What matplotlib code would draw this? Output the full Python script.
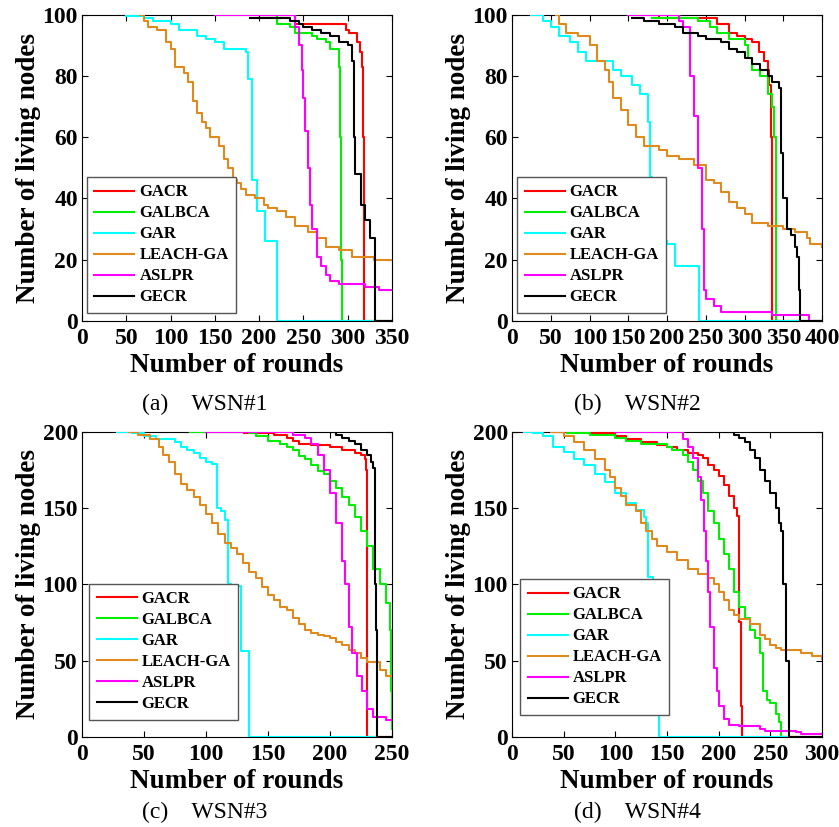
import matplotlib
matplotlib.use("Agg")
import matplotlib.pyplot as plt

plt.rcParams['font.family'] = ['Liberation Serif', 'DejaVu Serif']

names = ['GACR', 'GALBCA', 'GAR', 'LEACH-GA', 'ASLPR', 'GECR']
colors = ['#ff0000', '#00ee00', '#00ffff', '#e08a1e', '#ff00ff', '#000000']

# ---- WSN#1 ----
w1_gacr_r = [200, 240, 298, 302, 310, 314, 316, 317, 318, 350]
w1_gacr_n = [100, 97, 95, 94, 91, 88, 83, 60, 0, 0]
w1_galbca_r = [215, 220, 235, 240, 260, 265, 275, 280, 290, 291, 292, 293, 294, 350]
w1_galbca_n = [100, 97, 96, 94, 93, 92, 91, 89, 83, 60, 45, 20, 0, 0]
w1_gar_r = [50, 70, 80, 100, 110, 130, 140, 150, 160, 185, 188, 192, 198, 207, 220, 350]
w1_gar_n = [99.5, 99, 98, 97, 95, 93, 92, 91, 89, 88, 79, 46, 36, 26, 0, 0]
w1_leach_r = [65, 70, 75, 85, 95, 100, 105, 115, 120, 125, 130, 135, 140, 145, 155, 160, 165,
              170, 175, 180, 185, 195, 205, 210, 220, 230, 240, 255, 265, 275, 290, 305, 330, 350]
w1_leach_n = [100, 98, 96, 95, 91, 89, 83, 81, 78, 72, 68, 65, 63, 60, 57, 53, 50,
              46, 45, 43, 41, 40, 38, 37, 36, 34, 31, 29, 27, 24, 23, 21, 20, 20]
w1_aslpr_r = [150, 235, 240, 245, 248, 250, 252, 255, 258, 260, 265, 270, 275, 280, 290, 320, 335, 350]
w1_aslpr_n = [100, 100, 96, 90, 82, 73, 62, 50, 38, 30, 21, 18, 15, 13, 12, 11, 10, 10]
w1_gecr_r = [190, 235, 245, 250, 260, 270, 280, 290, 300, 305, 307, 308, 315, 320, 325, 331, 350]
w1_gecr_n = [99, 98, 97, 96, 95, 94, 93, 91, 90, 85, 60, 48, 38, 33, 27, 0, 0]

# ---- WSN#2 ----
w2_gacr_r = [185, 190, 260, 265, 280, 290, 300, 310, 318, 325, 330, 332, 334, 335, 336, 400]
w2_gacr_n = [100, 99, 99, 97, 94, 93, 92, 91, 88, 85, 82, 77, 60, 27, 0, 0]
w2_galbca_r = [180, 235, 240, 255, 265, 280, 300, 305, 310, 320, 330, 335, 338, 340, 341, 400]
w2_galbca_n = [99, 99, 98, 96, 94, 92, 90, 86, 82, 80, 74, 70, 60, 30, 0, 0]
w2_gar_r = [25, 40, 50, 60, 75, 85, 95, 105, 130, 140, 155, 165, 175, 178, 180, 200, 210, 241, 400]
w2_gar_n = [100, 98, 96, 93, 91, 88, 85, 85, 82, 80, 77, 74, 65, 47, 26, 25, 18, 0, 0]
w2_leach_r = [57, 60, 70, 85, 100, 110, 120, 125, 130, 140, 150, 160, 170, 190, 200, 215, 235,
              250, 260, 270, 280, 290, 300, 310, 330, 350, 365, 380, 385, 400]
w2_leach_n = [100, 97, 94, 93, 90, 85, 82, 78, 73, 69, 64, 60, 57, 56, 54, 53, 51,
              46, 45, 42, 39, 37, 35, 32, 31, 30, 29, 27, 25, 24]
w2_aslpr_r = [150, 210, 215, 220, 230, 235, 240, 245, 248, 250, 260, 270, 335, 383, 400]
w2_aslpr_n = [100, 100, 98, 96, 80, 67, 50, 30, 10, 7, 5, 3, 2, 0, 0]
w2_gecr_r = [155, 170, 190, 210, 220, 240, 250, 270, 280, 290, 300, 310, 320, 330, 335, 345,
             347, 350, 355, 360, 365, 368, 370, 372, 400]
w2_gecr_n = [99, 98, 97, 96, 94, 93, 92, 91, 89, 88, 86, 84, 82, 80, 78, 76,
             55, 40, 30, 28, 24, 21, 10, 0, 0]

# ---- WSN#3 ----
w3_gacr_r = [131, 155, 165, 170, 175, 185, 200, 210, 220, 225, 228, 229, 230, 250]
w3_gacr_n = [199, 198, 196, 194, 192, 191, 190, 188, 186, 185, 182, 175, 0, 0]
w3_galbca_r = [87, 135, 140, 150, 160, 165, 170, 175, 180, 185, 190, 195, 200, 205, 210, 215,
               220, 225, 230, 235, 240, 245, 248, 249, 250]
w3_galbca_n = [200, 199, 197, 194, 192, 190, 188, 184, 182, 178, 174, 172, 168, 163, 157, 152,
               144, 135, 125, 110, 100, 88, 70, 30, 5]
w3_gar_r = [28, 40, 50, 60, 75, 80, 85, 90, 95, 100, 105, 109, 112, 115, 118, 120, 128, 131, 135, 240]
w3_gar_n = [200, 199, 197, 195, 193, 190, 188, 186, 183, 180, 179, 150, 148, 142, 100, 99, 56, 56, 0, 0]
w3_leach_r = [38, 45, 55, 62, 65, 70, 75, 80, 85, 90, 95, 100, 105, 110, 115, 120, 125, 130,
              135, 140, 145, 150, 155, 160, 165, 170, 175, 180, 185, 190, 195, 200, 205, 210,
              215, 220, 225, 230, 240, 245, 250]
w3_leach_n = [200, 198, 195, 190, 185, 180, 172, 166, 162, 157, 152, 146, 140, 133, 127, 124,
              120, 114, 108, 104, 98, 93, 90, 85, 83, 78, 74, 70, 68, 67, 66, 65, 62, 60,
              57, 55, 52, 49, 44, 40, 40]
w3_aslpr_r = [100, 160, 170, 180, 185, 190, 195, 200, 205, 210, 212, 215, 218, 222, 226, 230,
              235, 245, 250]
w3_aslpr_n = [200, 200, 198, 196, 192, 185, 175, 160, 140, 115, 100, 72, 55, 40, 30, 18,
              13, 11, 11]
w3_gecr_r = [200, 205, 210, 215, 220, 225, 230, 233, 235, 236, 237, 238, 250]
w3_gecr_n = [200, 198, 196, 194, 192, 188, 185, 180, 176, 100, 70, 0, 0]

# ---- WSN#4 ----
w4_gacr_r = [40, 75, 100, 110, 125, 140, 150, 160, 170, 180, 185, 190, 195, 200, 205, 210,
             215, 218, 220, 222, 223, 300]
w4_gacr_n = [200, 199, 197, 195, 193, 191, 190, 188, 186, 185, 183, 178, 175, 171, 165, 158,
             150, 145, 75, 20, 0, 0]
w4_galbca_r = [53, 75, 100, 110, 125, 150, 155, 165, 170, 175, 180, 185, 190, 195, 200, 205,
               210, 215, 220, 225, 230, 235, 240, 243, 247, 250, 255, 258, 260, 300]
w4_galbca_n = [199, 198, 196, 194, 192, 190, 188, 185, 180, 175, 168, 160, 148, 140, 130, 120,
               110, 95, 85, 78, 70, 65, 55, 30, 24, 22, 15, 10, 0, 0]
w4_gar_r = [12, 20, 30, 40, 50, 60, 70, 80, 90, 100, 110, 120, 128, 130, 132, 136, 140, 142, 270]
w4_gar_n = [200, 199, 197, 190, 187, 182, 178, 172, 167, 160, 153, 149, 144, 140, 105, 60, 15, 0, 0]
w4_leach_r = [38, 50, 60, 70, 80, 90, 95, 100, 105, 110, 120, 125, 130, 135, 140, 150, 160,
              170, 180, 190, 195, 200, 205, 210, 215, 220, 230, 240, 245, 250, 255, 260, 270,
              280, 290, 300]
w4_leach_n = [200, 197, 193, 188, 182, 175, 170, 163, 158, 152, 148, 140, 135, 130, 125, 121,
              116, 110, 107, 104, 100, 95, 90, 83, 80, 77, 74, 67, 64, 60, 58, 57, 57,
              55, 53, 51]
w4_aslpr_r = [100, 158, 165, 170, 175, 180, 183, 186, 188, 190, 192, 195, 198, 200, 205, 210,
              220, 240, 245, 275, 280, 300]
w4_aslpr_n = [200, 200, 195, 190, 183, 170, 155, 135, 115, 95, 72, 45, 30, 20, 12, 8,
              7, 5, 4, 3, 2, 2]
w4_gecr_r = [205, 215, 220, 225, 230, 235, 240, 245, 250, 255, 258, 260, 262, 265, 268, 300]
w4_gecr_n = [200, 198, 196, 193, 188, 183, 175, 168, 160, 150, 140, 135, 100, 50, 0, 0]

panels = [
    ([(w1_gacr_r, w1_gacr_n), (w1_galbca_r, w1_galbca_n), (w1_gar_r, w1_gar_n),
      (w1_leach_r, w1_leach_n), (w1_aslpr_r, w1_aslpr_n), (w1_gecr_r, w1_gecr_n)],
     350, 100, 20, '(a)    WSN#1', [0.0977, 0.612, 0.3695, 0.370], (0.016, 0.026), (0.244, 0.511)),
    ([(w2_gacr_r, w2_gacr_n), (w2_galbca_r, w2_galbca_n), (w2_gar_r, w2_gar_n),
      (w2_leach_r, w2_leach_n), (w2_aslpr_r, w2_aslpr_n), (w2_gecr_r, w2_gecr_n)],
     400, 100, 20, '(b)    WSN#2', [0.6103, 0.612, 0.3695, 0.370], (0.016, 0.026), (0.760, 0.511)),
    ([(w3_gacr_r, w3_gacr_n), (w3_galbca_r, w3_galbca_n), (w3_gar_r, w3_gar_n),
      (w3_leach_r, w3_leach_n), (w3_aslpr_r, w3_aslpr_n), (w3_gecr_r, w3_gecr_n)],
     250, 200, 50, '(c)    WSN#3', [0.0977, 0.109, 0.3695, 0.369], (0.023, 0.056), (0.244, 0.017)),
    ([(w4_gacr_r, w4_gacr_n), (w4_galbca_r, w4_galbca_n), (w4_gar_r, w4_gar_n),
      (w4_leach_r, w4_leach_n), (w4_aslpr_r, w4_aslpr_n), (w4_gecr_r, w4_gecr_n)],
     300, 200, 50, '(d)    WSN#4', [0.6103, 0.109, 0.3695, 0.369], (0.026, 0.072), (0.760, 0.017)),
]

fig = plt.figure(figsize=(8.39, 8.27), dpi=100)

for series, xmax, ymax, ystep, caption, pos, leg_xy, cap_xy in panels:
    ax = fig.add_axes(pos)
    for (r, n), name, c in zip(series, names, colors):
        ax.plot(r, n, drawstyle='steps-post', color=c, lw=1.5, label=name, zorder=3)
    ax.set_xlim(0, xmax)
    ax.set_ylim(0, ymax)
    ax.set_xticks(range(0, xmax + 1, 50))
    ax.set_yticks(range(0, ymax + 1, ystep))
    ax.tick_params(direction='in', top=True, right=True, length=4, labelsize=17, pad=5)
    ax.tick_params(axis='y', pad=3)
    for lab in ax.get_xticklabels() + ax.get_yticklabels():
        lab.set_fontweight('bold')
    ax.set_xlabel('Number of rounds', fontsize=19.5, fontweight='bold', labelpad=3)
    ax.set_ylabel('Number of living nodes', fontsize=19.5, fontweight='bold', labelpad=1)
    leg = ax.legend(loc='lower left', bbox_to_anchor=leg_xy, fancybox=False,
                    prop={'weight': 'bold', 'size': 12}, handlelength=2.4, handletextpad=0.3,
                    labelspacing=0.3, borderpad=0.45, borderaxespad=0, framealpha=1)
    leg.get_frame().set_edgecolor('#555555')
    leg.get_frame().set_linewidth(1.0)
    fig.text(cap_xy[0], cap_xy[1], caption, fontsize=17, ha='center', va='center')

plt.savefig('out.png', dpi=100)
